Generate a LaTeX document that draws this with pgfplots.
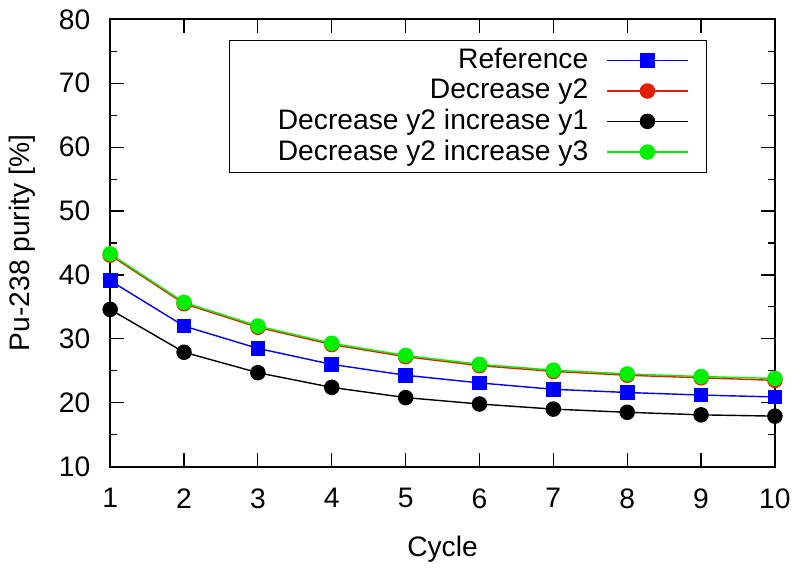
\documentclass[border=0pt]{standalone}
\usepackage{pgfplots}
\pgfplotsset{compat=1.18}
\usepackage{fontspec}
\setmainfont{Liberation Sans}
\definecolor{gpblue}{RGB}{0,0,255}
\definecolor{gpred}{RGB}{225,30,0}
\definecolor{gpgreen}{RGB}{0,240,0}
\begin{document}
\fontsize{14}{16.5}\selectfont
\begin{tikzpicture}
\begin{axis}[
  scale only axis,
  width=330pt, height=222pt,
  xmin=1, xmax=10, ymin=10, ymax=80,
  xtick={1,...,10}, ytick={10,20,...,80},
  minor ytick={15,25,...,75},
  tick align=inside,
  major tick length=7pt, minor tick length=3.5pt,
  axis line style={line width=1pt},
  every tick/.style={black, line width=0.6pt},
  /pgf/number format/assume math mode=true,
  ticklabel style={font=\fontsize{14}{16.5}\selectfont},
  label style={font=\fontsize{14}{16.5}\selectfont},
  xlabel={Cycle}, ylabel={Pu-238 purity [\%]},
  yticklabel style={xshift=-5pt},
  xticklabel style={yshift=-6pt},
  xlabel style={yshift=-4pt},
  ylabel style={yshift=2pt},
  legend style={at={(0.8985,0.955)}, anchor=north east, draw=black, line width=0.8pt,
    font=\fontsize{14}{16.5}\selectfont, row sep=-1pt, inner sep=2pt},
  legend cell align=right,
  legend plot pos=right,
  legend image code/.code={\path (0cm,0cm); \draw[mark=none] (0.25cm,0cm) -- (1.65cm,0cm); \draw[only marks] plot coordinates {(0.95cm,0cm)}; \path (1.9cm,0cm);},
]
\addplot[gpblue, line width=0.7pt, mark=square*, mark size=3.3pt, mark options={fill=gpblue}] coordinates {
(1,39.1)(2,32.0)(3,28.5)(4,26.0)(5,24.3)(6,23.1)(7,22.1)(8,21.6)(9,21.2)(10,20.9)};
\addlegendentry{\makebox[174pt][r]{Reference}}
\addplot[gpred, line width=0.7pt, mark=*, mark size=3.5pt, mark options={fill=gpred}] coordinates {
(1,43.1)(2,35.5)(3,31.8)(4,29.1)(5,27.2)(6,25.8)(7,24.9)(8,24.3)(9,23.9)(10,23.5)};
\addlegendentry{Decrease y2}
\addplot[black, line width=0.7pt, mark=*, mark size=3.5pt, mark options={fill=black}] coordinates {
(1,34.6)(2,27.9)(3,24.7)(4,22.4)(5,20.8)(6,19.8)(7,19.0)(8,18.5)(9,18.1)(10,17.9)};
\addlegendentry{Decrease y2 increase y1}
\addplot[gpgreen, line width=0.7pt, mark=*, mark size=3.5pt, mark options={fill=gpgreen}] coordinates {
(1,43.3)(2,35.7)(3,32.0)(4,29.3)(5,27.4)(6,26.0)(7,25.1)(8,24.5)(9,24.1)(10,23.8)};
\addlegendentry{Decrease y2 increase y3}
\end{axis}
\end{tikzpicture}
\end{document}
